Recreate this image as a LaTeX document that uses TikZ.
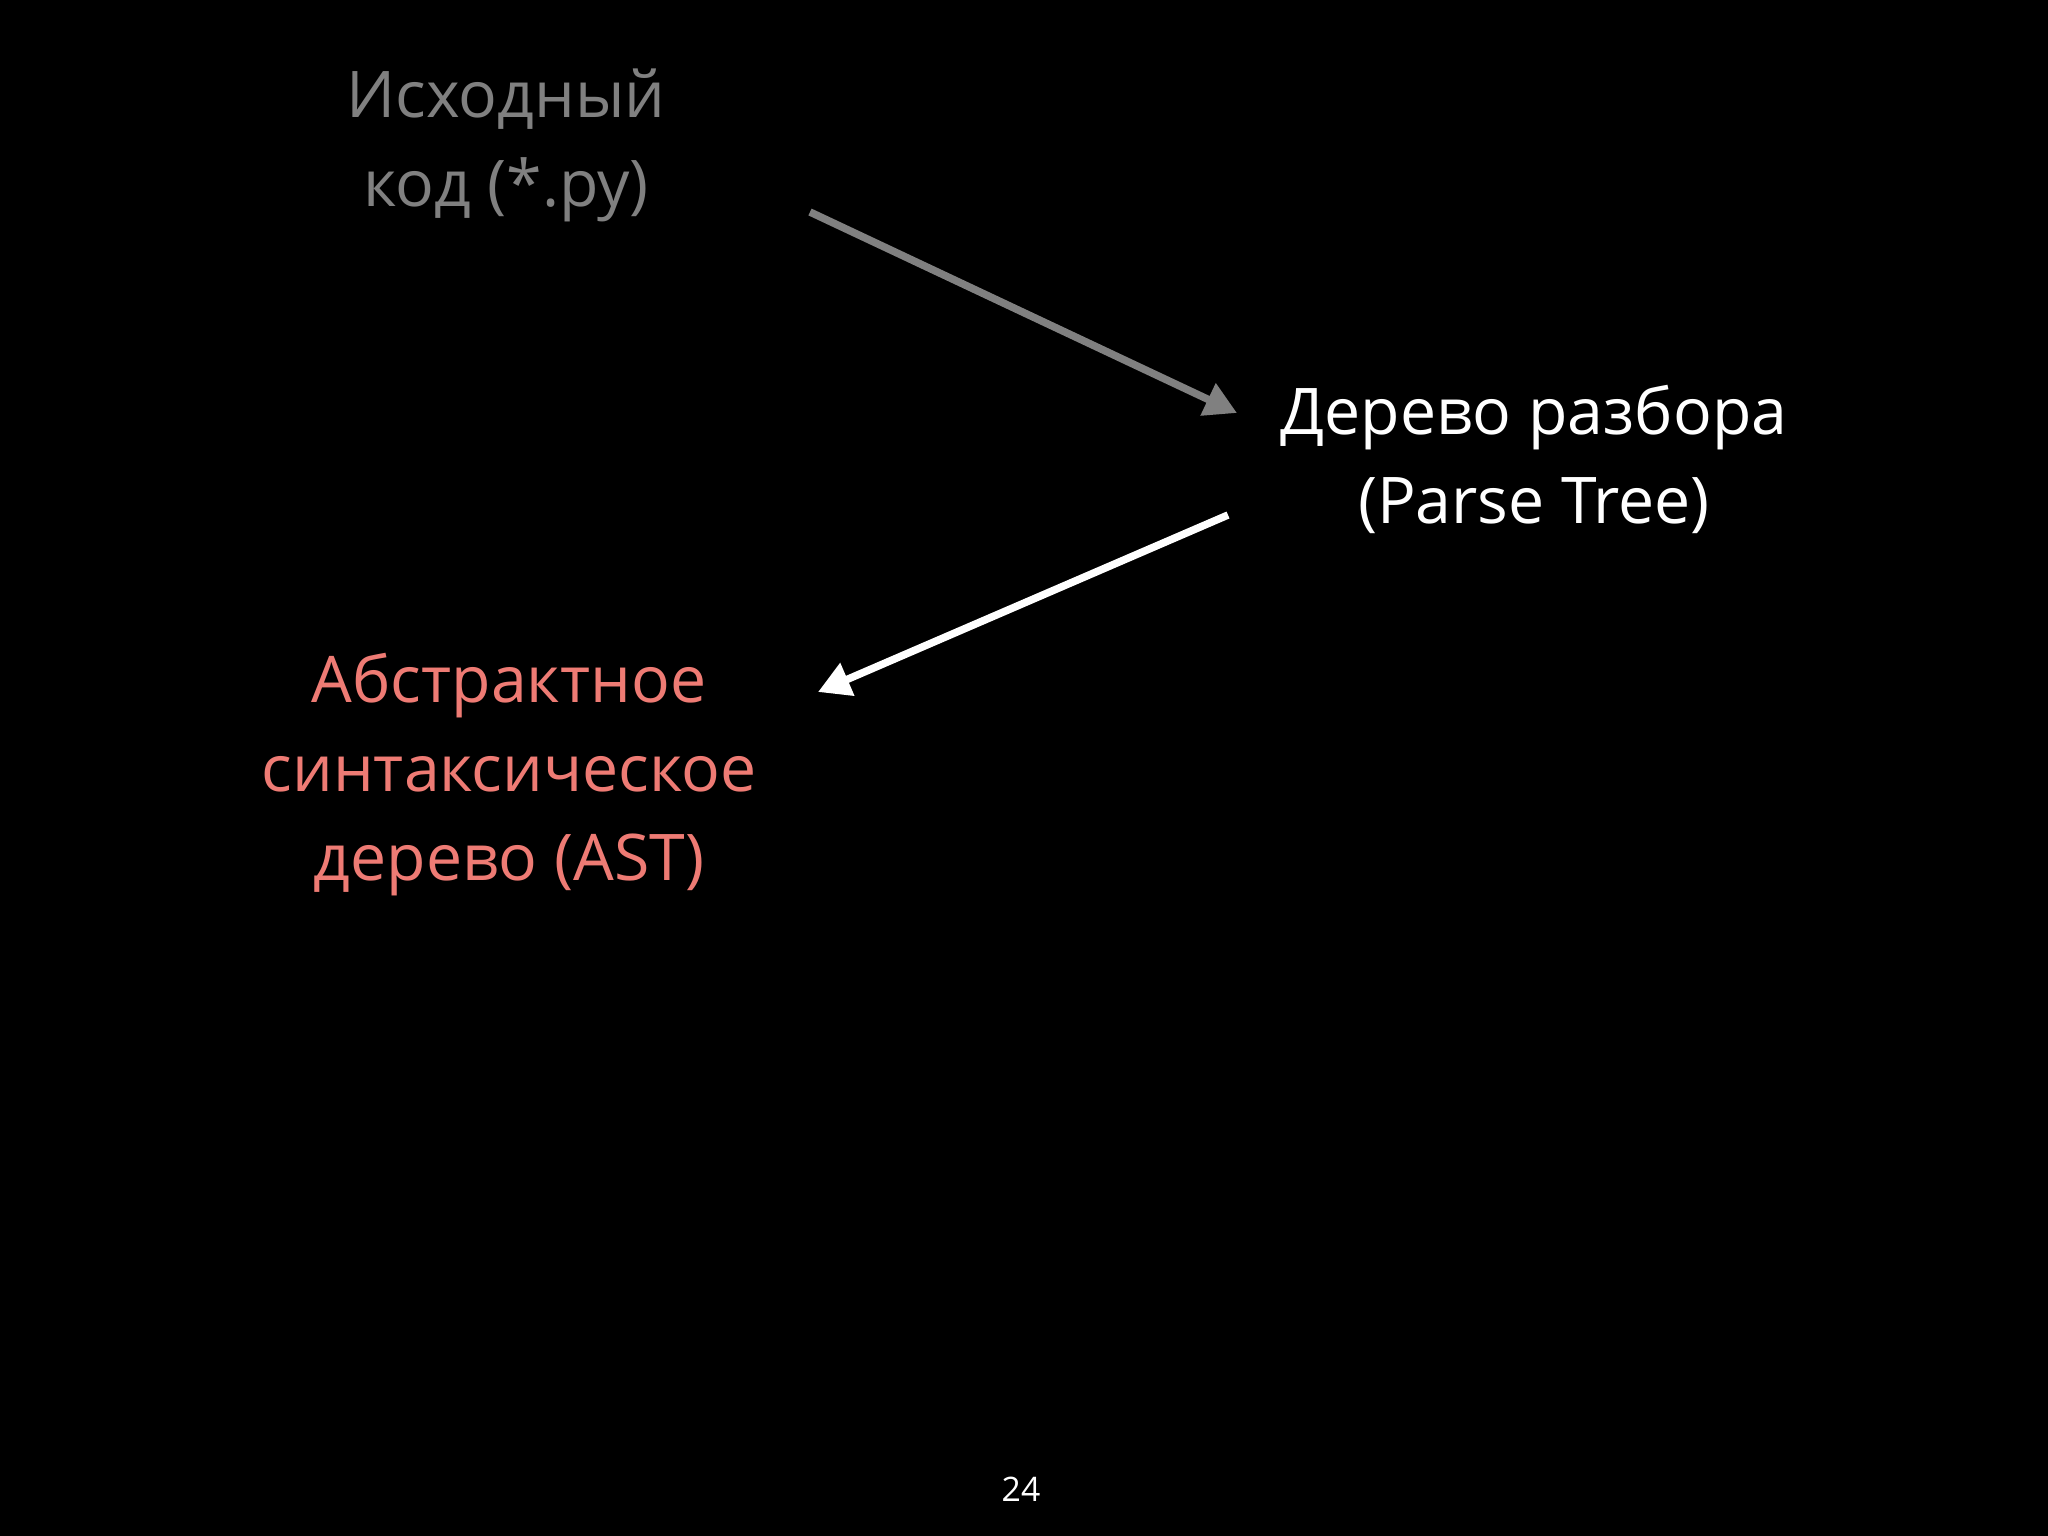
\documentclass[tikz,border=0pt]{standalone}
\usepackage{fontspec}
\setmainfont{Open Sans}
\usetikzlibrary{arrows.meta}

\definecolor{srcgray}{RGB}{128,128,128}
\definecolor{astred}{RGB}{238,123,116}

\begin{document}
\begin{tikzpicture}
[x=0.01cm, y=-0.01cm,
 >={Triangle[length=0.32cm, width=0.34cm]},
 label/.style={align=center, font=\fontsize{18.3}{25.3}\selectfont},
 conn/.style={->, line width=0.075cm, shorten >=0pt},
]

\fill[black] (0,0) rectangle (2048,1536);
\useasboundingbox (0,0) rectangle (2048,1536);

\node[label, text=srcgray] (source) at (506,145) {Исходный\\код (*.py)};
\node[label, text=white]   (parse)  at (1534,459) {Дерево разбора\\(Parse Tree)};
\node[label, text=astred]  (ast)    at (509,775) {Абстрактное\\синтаксическое\\дерево (AST)};
\node[text=white, font=\fontsize{9.6}{11}\selectfont] (page) at (1021,1489) {24};

\draw[conn, srcgray]
([shift={(304,67)}]source.center) -- ([shift={(-297,-46)}]parse.center);
\draw[conn, white]
([shift={(-306,56)}]parse.center) -- ([shift={(309,-83)}]ast.center);
\end{tikzpicture}
\end{document}
